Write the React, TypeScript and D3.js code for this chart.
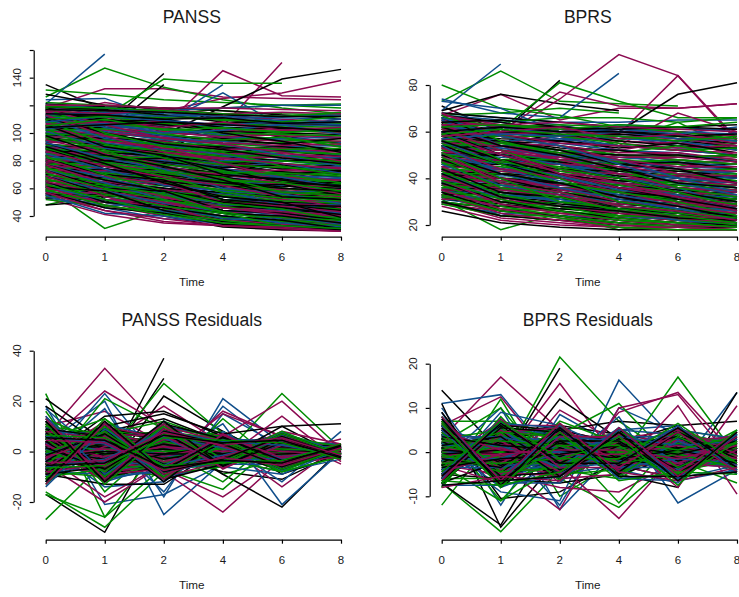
import React, { useEffect, useRef } from 'react';
import * as d3 from 'd3';

const times = ['0', '1', '2', '4', '6', '8'];
const lineColors = ['#000000', '#8B0A50', '#008B00', '#104E8B'];

// each row is one subject, read at times 0,1,2,4,6,8 (short rows dropped out)
const panssBlack = [
  [135,117,100,78,66,58],[110,105,143],[112,100,135],[128,120,118,110,104,100],[100,98,99,119,139,146],
  [48,51,40,32,30,30],[84,52,44,38,36,34],[118,114,108,104,97,90],[107,106,104,100,98,92],[121,119,118,116,113,110],
  [76,76,72,66,60,57],[92,88,82,78,72,64],[68,62,56,46,43,40],[88,84,78,72,66,60],[58,52,47,40,36,34],
  [97,92,90,85,83,82],[72,68,64,58,54,51],[64,58,54,48,44,42],[80,77,72,68,62,58],[102,99,93,90,84,79],
  [55,50,44,38,35,33],[86,80,74,68,62,60],[74,70,62,56,50,48],[115,110,104,96,92,88],[62,56,50,42,38,36],
  [94,92,84,76,72,68],[70,64,60,52,50,46],[82,76,70,60,58,55],[66,60,52,47,45,43],[78,72,68,62,56,52],[105,95,88,80,76,70],
  [119,117,113,108,107,106],[113,112,110,104,103,102],[109,110,106,101,100,99],[103,104,98,95,92,96],[99,96,94,89,90,87],
  [95,96,90,86,87,83],[91,90,86,83,80,81],[87,86,83,79,74,77],[83,84,79,75,77,72],[79,80,75,71,70,73],
  [75,72,74,69,67,63],[71,74,70,65,61,65],[67,68,65,61,63,55],[63,64,60,57,53,57],[59,62,57,54,50,49],
  [56,54,58,51,47,45],[53,56,52,46,48,44],[117,108,110,100,94,86],[111,100,92,88,82,78],[93,80,82,74,64,62],
  [89,74,68,64,60,58],[81,70,66,52,48,47],[77,66,58,50,46,41],[73,60,58,44,42,37],[69,56,48,42,40,35],
  [65,50,46,40,37,31],[61,58,44,36,33,31],[57,46,42,34,32,30],[106,90,84,70,66,61],[98,84,76,66,54,52],[90,78,64,54,50,39],
  [117,116,115,113,112,112],[114,113,110,111,107,108],[104,106,108,106,104,101],
];
const panssMaroon = [
  [118,132,132,126,125,124],[112,122,116,125,129,138],[108,104,105,145,127,126],[100,96,95,105,151],[53,41,35,33,30,29],
  [55,44,36,33,31,30],[120,118,115,112,110,108],[98,95,92,90,88,85],[90,88,86,84,82,80],[85,82,78,74,70,64],
  [110,106,100,98,96,94],[76,72,66,60,56,52],[68,63,56,48,44,38],[60,54,46,38,34,32],[104,102,98,96,94,90],
  [72,66,62,56,50,44],[116,111,108,102,100,96],[80,74,70,66,62,57],[64,60,52,44,38,34],[92,84,80,74,71,68],
  [58,50,42,36,32,31],[96,90,86,80,74,72],[70,62,58,52,46,42],[88,82,80,72,66,62],[74,70,64,58,52,48],
  [62,52,46,40,36,33],[114,108,102,100,98,96],[82,78,72,64,60,54],[66,58,50,42,40,36],[78,70,66,58,55,50],
  [119,116,112,110,106,105],[115,113,109,106,104,103],[111,107,106,103,102,100],[107,103,101,97,99,97],[101,100,97,93,91,92],
  [97,98,94,88,89,86],[93,94,89,85,85,83],[89,90,85,81,83,78],[86,85,81,77,76,75],[83,86,77,73,73,71],
  [79,81,76,69,69,65],[75,76,71,67,63,61],[71,73,69,63,59,59],[67,69,63,59,57,53],[63,65,59,55,51,51],
  [59,60,55,51,49,47],[56,57,53,47,43,41],[54,52,49,43,39,37],[117,106,96,92,86,80],[105,94,90,78,68,66],
  [95,86,74,70,64,56],[87,76,68,62,54,46],[81,68,64,50,47,43],[77,64,54,46,42,40],[73,58,50,46,41,35],
  [69,54,44,37,34,31],[65,56,48,35,33,30],[61,48,40,34,31,29],[57,44,38,33,32,29],[113,98,86,82,78,74],
  [116,114,117,114,115,114],[120,120,118,118,117,116],[106,108,104,108,102,104],
];
const panssGreen = [
  [126,147,133,124,118,114],[131,128,124,122,120,118],[61,31,45,40,34,33],[48,57,52,44,38,36],[112,112,139,136,136],
  [122,120,118,116,114,113],[118,116,112,118,120,121],[104,102,100,98,94,96],[100,96,95,92,93,94],[96,90,88,86,84,82],
  [90,86,84,80,78,76],[84,80,78,70,68,66],[78,76,74,68,62,60],[74,74,68,60,52,46],[70,64,60,54,48,40],
  [66,60,62,56,44,42],[62,54,48,40,34,32],[56,50,46,38,35,34],[110,104,100,92,90,88],[106,100,96,94,90,84],
  [116,110,104,98,96,92],[94,92,88,84,80,78],[86,84,80,76,72,70],[80,72,70,64,58,54],[72,70,64,58,56,50],
  [68,62,54,50,46,44],[64,58,50,46,42,38],[60,52,44,36,34,32],[76,74,66,62,58,56],[98,94,92,88,82,80],
  [120,115,113,109,108,107],[117,112,106,107,105,104],[113,109,107,103,101,101],[108,107,103,100,99,98],[102,103,99,95,97,90],
  [99,99,93,91,88,89],[95,95,91,87,86,85],[91,91,87,83,84,79],[88,87,85,79,80,77],[85,83,82,77,75,73],
  [81,82,77,73,71,69],[77,79,73,71,69,63],[73,77,71,65,65,61],[69,71,67,63,60,57],[65,67,64,59,55,53],
  [61,63,57,55,51,49],[58,59,55,52,47,45],[54,55,51,47,41,39],[52,47,43,39,37,35],[118,100,90,86,76,70],
  [109,92,82,72,70,64],[97,88,72,68,57,55],[89,78,69,57,53,51],[83,70,58,49,45,37],[75,62,56,42,39,37],
  [71,60,52,43,36,33],[67,56,47,42,33,31],[63,52,42,37,32,30],[59,48,41,35,33,31],[103,86,76,66,64,58],
  [119,118,116,114,112,115],[110,112,111,110,108,112],[105,110,102,104,100,103],
];
const panssBlue = [
  [121,157],[124,125,110,114,108,106],[116,110,107,135],[110,108,108,129,105,110],[112,108,105,104,103,100],
  [100,100,98,96,95,93],[92,88,84,82,80,76],[84,82,78,76,72,70],[78,78,76,70,66,62],[72,68,62,56,52,50],
  [66,60,56,52,46,44],[60,58,50,44,42,38],[108,102,96,90,88,84],[96,92,86,82,76,74],[88,86,82,78,74,72],
  [80,76,74,68,64,60],[74,70,66,62,58,54],[68,64,58,54,48,46],[62,56,52,48,44,40],[104,98,94,88,84,82],
  [90,84,80,74,70,66],[76,72,68,64,60,56],[70,66,60,56,50,47],[64,54,54,50,46,42],[58,46,38,36,34,32],
  [86,78,72,66,62,58],[116,118,114,112,111,110],[120,118,116,118,120,120],[82,80,74,70,68,64],
  [119,114,111,111,109,108],[114,113,106,105,106,105],[109,106,103,99,101,102],[105,105,102,97,96,97],[102,101,95,94,90,91],
  [98,97,91,89,87,87],[94,93,88,85,83,84],[90,89,84,80,81,75],[86,83,80,76,78,73],[83,80,79,72,69,68],
  [79,81,72,72,67,67],[75,74,71,66,62,63],[71,72,69,60,57,59],[67,68,63,58,55,51],[63,61,59,52,49,48],
  [59,62,56,49,45,43],[56,52,50,46,41,39],[53,48,47,42,38,36],[117,104,98,92,84,76],[111,96,92,84,78,71],
  [101,90,82,74,68,61],[93,82,74,60,56,49],[85,74,62,58,48,42],[77,68,56,44,41,37],[73,64,52,42,40,34],
  [69,58,49,38,36,33],[65,50,44,40,35,32],[61,52,43,36,33,31],[55,42,40,34,32,30],
  [113,115,112,114,112,113],[108,112,109,106,108,106],[103,107,100,102,106,99],
];

const bprsBlack = [
  [71,60,56,60,61,61],[69,76,72,69],[66,59,82],[64,31,36,30,28,27],[58,55,56,60,76,81],
  [26,21,19,18,18,18],[68,66,64,62,60,58],[60,58,56,54,52,50],[55,52,50,47,46,46],[50,47,45,42,38,36],
  [46,44,40,38,34,32],[42,40,38,34,32,30],[38,36,32,28,26,24],[34,30,28,24,22,21],[30,27,24,22,20,19],
  [56,54,50,48,44,42],[52,48,46,40,36,34],[48,44,42,36,33,31],[44,42,38,32,30,28],[40,36,34,30,28,26],
  [36,32,30,26,24,22],[32,29,26,22,20,20],[64,63,60,58,56,54],[58,52,46,42,40,38],[54,50,46,44,42,40],
  [47,46,42,38,36,34],[43,38,36,34,30,27],[39,34,30,28,26,25],[35,33,28,25,23,22],[67,64,60,62,62,63],
  [65,62,62,60,59,57],[63,61,58,59,57,55],[61,60,59,56,54,53],[59,57,56,53,55,51],[57,56,53,52,49,50],
  [53,54,51,50,50,47],[51,50,47,46,47,44],[49,50,47,44,43,41],[47,48,44,43,41,39],[45,46,44,41,39,37],
  [43,42,41,39,37,35],[41,42,37,37,35,33],[39,40,38,35,33,31],[37,38,35,33,31,29],[35,36,33,31,29,27],
  [33,34,31,29,27,25],[31,30,29,27,25,23],[29,28,27,25,24,22],[66,56,52,46,44,38],[60,50,44,40,34,30],
  [54,46,40,34,32,28],[48,40,34,30,26,24],[44,34,32,27,25,21],[38,30,26,23,21,20],[34,26,24,21,19,19],
  [30,24,22,20,19,18],[62,54,50,44,38,36],[56,48,42,36,31,27],[50,42,38,32,28,23],[42,32,28,26,23,22],
  [64,65,62,61,62,61],[60,62,60,60,58,59],
];
const bprsMaroon = [
  [67,76,65,70,70,72],[62,58,74,93,84,56],[64,60,77,71,70,72],[60,55,58,59,84,57],[28,22,20,19,18,18],
  [30,23,21,19,18,18],[66,62,61,60,58,56],[62,60,58,56,55,52],[58,56,52,52,50,49],[54,50,49,47,46,44],
  [50,48,44,40,38,34],[46,42,40,36,34,30],[42,38,36,32,28,24],[38,34,32,30,27,22],[34,30,30,26,22,20],
  [32,26,24,21,20,19],[56,52,50,52,50,48],[52,50,46,44,42,40],[48,46,42,38,36,32],[44,40,38,34,30,28],
  [40,38,34,30,26,23],[36,32,28,24,22,20],[60,60,58,52,56,50],[65,58,55,54,68,60],[55,48,46,50,48,46],
  [47,42,40,38,34,31],[43,40,34,28,25,24],[37,36,30,27,24,21],[33,28,26,23,21,20],[64,63,62,60,60,58],
  [67,63,61,59,58,57],[65,62,60,58,57,54],[61,59,60,55,53,54],[59,59,55,54,52,51],[57,55,54,51,51,48],
  [55,54,51,49,49,47],[53,52,48,48,45,45],[51,51,49,45,44,43],[49,47,46,45,42,41],[47,48,43,42,41,38],
  [45,44,42,40,39,37],[43,43,41,38,36,35],[41,40,37,36,34,33],[39,39,36,34,33,29],[37,36,35,32,30,27],
  [35,35,32,29,28,25],[31,31,28,26,24,23],[29,26,25,23,21,19],[68,58,54,48,42,38],[63,54,48,42,36,34],
  [59,50,44,38,32,26],[53,44,40,34,29,27],[49,40,36,30,28,25],[45,36,33,26,24,22],[41,32,28,25,23,21],
  [39,29,25,22,20,19],[35,27,23,20,19,18],[33,25,22,19,19,18],[61,52,42,36,32,28],[51,38,34,28,26,22],
  [63,63,64,62,61,60],[58,60,62,57,59,55],
];
const bprsGreen = [
  [73,86,73,72,71],[80,70,67,62,58,54],[31,18,25,24,22,22],[60,61,81,73,66,66],[34,24,24,18,22,21],
  [67,68,70,68],[65,64,66,66,64,66],[62,56,50,56,64,52],[58,54,50,46,48,44],[54,52,50,48,46,40],
  [50,50,46,44,40,38],[46,46,42,40,36,30],[42,40,40,34,32,28],[38,36,34,32,30,26],[36,33,36,28,25,24],
  [33,28,30,25,22,20],[32,26,24,20,19,19],[56,50,48,46,44,42],[52,48,50,44,40,36],[48,42,44,38,36,34],
  [44,40,36,36,32,26],[40,35,38,32,28,26],[64,58,62,54,52,55],[61,58,54,50,48,46],[57,56,52,48,50,48],
  [53,46,46,42,38,34],[45,44,38,34,34,30],[41,34,32,30,28,24],[37,34,30,24,24,23],[35,30,28,26,22,20],
  [66,62,63,62,60,57],[63,63,60,57,58,56],[60,58,58,55,52,53],[58,58,54,51,54,49],[56,55,52,50,49,50],
  [54,55,51,47,48,46],[52,51,47,46,43,44],[50,48,48,43,41,42],[48,47,45,41,42,39],[46,45,43,39,38,37],
  [44,43,41,37,37,35],[42,42,38,37,34,33],[40,39,36,35,33,31],[38,37,33,34,31,29],[36,37,34,30,29,27],
  [34,32,32,27,27,25],[32,30,27,26,24,23],[30,27,26,24,23,21],[29,24,22,21,20,19],[67,56,50,44,36,32],
  [61,52,44,40,34,28],[55,46,38,34,30,24],[49,38,34,28,25,22],[47,36,32,26,23,20],[43,33,28,23,21,19],
  [39,31,26,22,21,19],[37,28,24,21,19,18],[33,26,23,19,18,18],[59,48,40,30,26,23],[51,40,30,27,24,21],
  [62,63,61,63,62,64],[59,61,59,58,56,58],
];
const bprsBlue = [
  [69,89],[74,68,66,85],[73,70,60,58,54,60],[68,66,64,64,65,65],[62,60,60,63,62,60],
  [58,58,56,58,55,54],[54,54,52,50,46,48],[50,50,48,48,44,38],[46,48,44,42,40,36],[42,41,42,36,34,34],
  [40,42,36,33,30,30],[37,35,32,34,30,28],[33,30,34,30,28,24],[30,24,30,28,26,22],[56,52,48,44,42,40],
  [52,46,44,40,38,36],[48,42,40,36,34,30],[44,40,36,34,30,28],[60,56,52,50,48,46],[64,62,58,54,52,50],
  [66,64,60,61,60,59],[38,38,34,30,26,25],[35,32,28,28,26,24],[47,44,42,38,36,32],[43,39,38,36,32,28],
  [55,50,48,46,44,42],[51,48,46,42,40,38],
  [67,65,63,58,58,56],[63,59,62,60,57,57],[61,61,57,57,56,52],[59,56,57,54,53,53],[57,54,55,52,51,47],
  [55,53,50,49,47,45],[53,53,49,47,45,44],[51,49,50,44,42,43],[49,46,46,43,41,40],[47,47,44,40,39,41],
  [45,45,40,39,37,39],[43,44,39,38,35,37],[41,38,37,37,33,32],[39,37,37,35,32,31],[36,36,35,32,31,29],
  [34,34,30,31,29,27],[32,32,31,29,28,26],[31,28,27,26,25,25],[29,25,24,23,23,21],[65,54,50,48,40,34],
  [60,50,46,40,36,27],[56,46,41,35,33,26],[50,44,38,33,28,26],[46,37,33,30,27,23],[42,33,31,27,25,21],
  [38,32,28,26,22,20],[66,58,54,46,38,33],[54,42,36,31,27,22],
  [60,62,60,61,59,62],[57,59,58,60,57,56],
];

const panssResBlack = [
  [-17,-32,10,6,2,0],[4,-8,37],[2,-6,29],[6,-10,22,8,-4,0],[21,4,-5,-3,1,0],
  [18,2,-2,-8,-11,0],[-6,-4,5,-9,-22,1],[8,8,13,4,-1,-1],[-9,-13,-13,2,4,0],[-3,14,16,6,-9,-1],
  [3,10,15,7,10,-2],[-2,-5,-2,-3,10,11],[0,1,2,1,-1,0],[-3,-3,-1,0,2,1],[2,1,-1,-2,0,0],
  [-5,-3,0,-3,-1,1],[5,-1,-4,-1,1,-1],[-8,-4,-3,-5,3,2],[10,-5,-7,-2,4,-1],[-1,6,8,2,-6,-1],
  [4,-6,-6,3,6,-1],[-4,4,-5,-2,-4,1],[1,-2,3,1,-3,0],[7,-8,2,-1,0,0],[-6,7,6,-1,-7,2],
  [-12,-1,7,2,5,-2],[-2,2,2,0,-1,0],
  [9,-7,-4,-1,2,0],[-9,6,4,1,-3,1],[7,-5,-3,2,-1,-1],[-7,5,3,-2,1,0],[11,-9,-5,-2,3,-1],
  [-10,8,5,2,-3,1],[6,-3,-2,1,-3,1],[-5,2,3,-2,2,-1],[3,-4,-1,2,-2,1],[-4,3,1,-1,1,-1],
  [1,2,-2,-1,1,0],[-1,-1,1,1,-1,0],[12,-10,-6,1,2,-2],[-11,9,6,-1,-4,2],[8,-2,-6,-4,4,0],
  [-8,1,7,3,-5,1],[5,-6,2,3,-3,1],[-5,4,-2,-3,3,-1],[2,5,-5,-3,2,0],[-3,-5,4,3,-1,-1],
  [0,-3,3,-1,1,0],[-1,3,-3,1,-1,1],[4,-1,1,-2,-1,0],[-2,0,-1,2,0,0],[6,-6,-1,-1,2,0],
  [7.5,-9,11,5,-6,1.5],[-7.5,9,-11,-5,6,-1.5],[4,-11,9,-4,7,-1],[-4,11,-9,4,-7,1],[9,6,-12,6,-5,2],
  [-9,-6,12,-6,5,-2],[1.5,-7,7.5,-5.5,3.5,-1.5],[-1.5,7,-7.5,5.5,-3.5,1.5],[12,-12,8,3,-6,2],[-12,12,-8,-3,6,-2],
  [5.5,4.5,-6.5,-3.5,-4.5,2.5],[-5.5,-4.5,6.5,3.5,4.5,-2.5],
];
const panssResMaroon = [
  [6,33,8,4,0,0],[3,24,10,-1,2,-1],[10,16,3,2,-5,-2],[-5,-20,-5,-2,1,-3],[5,-4,-8,-24,-3,0],
  [-4,-2,-7,-18,-2,1],[-1,3,18,3,-14,3],[-2,-18,-5,16,6,-5],[4,-3,-3,15,6,-2],[0,-1,-2,6,20,-1],
  [-6,4,-1,-3,14,-4],[2,-2,0,1,-1,5],[8,-7,-3,-1,2,1],[-3,2,1,-1,-3,1],[1,1,-1,-1,1,0],
  [-1,-2,-2,0,0,-1],[0,-1,1,0,-1,0],[3,-3,-2,2,1,-1],[-2,2,-1,-2,2,1],[5,-6,-5,3,3,-1],
  [-7,3,2,-3,4,-1],[12,-5,-4,-6,6,-3],[-4,6,4,7,-5,-2],[2,9,-9,-1,-2,3],[-3,-10,-2,-2,8,3],
  [14,-12,0,5,-7,1],[0,0,0,-1,0,0],
  [8,-6,-5,1,1,-1],[-8,7,3,-1,-2,1],[6,-5,-1,-2,3,0],[-6,4,2,2,-2,-1],[10,-8,-6,1,2,-1],
  [-9,7,6,-2,-3,2],[5,-2,-4,2,-2,1],[-4,3,4,-3,1,-1],[4,-5,1,2,-3,1],[-3,4,-1,-1,2,0],
  [2,1,-3,0,1,-1],[-1,-2,2,1,-1,1],[11,-9,-7,2,3,-2],[-10,10,5,-4,-2,1],[7,-3,-5,-3,5,-1],
  [-7,2,6,4,-6,2],[4,-7,3,2,-2,0],[-5,5,-3,-4,4,-1],[3,6,-6,-2,1,0],[-2,-6,5,2,-1,1],
  [1,-4,2,0,2,-1],[0,4,-4,1,-1,0],[3,-2,2,-3,-2,1],[-2,1,-2,3,0,-1],
  [6.5,-8,10,4,-7,2.5],[-6.5,8,-10,-4,7,-2.5],[3,-12,8,-5,6,-2],[-3,12,-8,5,-6,2],[8,5,-11,7,-4,1.5],
  [-8,-5,11,-7,4,-1.5],[2.5,-6,6.5,-6.5,2.5,-0.5],[-2.5,6,-6.5,6.5,-2.5,0.5],[13,-11,9,2,-5,3],[-13,11,-9,-2,5,-3],
  [4.5,3.5,-7.5,-2.5,-5.5,1.5],[-4.5,-3.5,7.5,2.5,5.5,-1.5],
];
const panssResGreen = [
  [-27,-4,2,-3,0,0],[23,-26,4,8,-4,0],[-16,-30,-8,-4,4,1],[-17,-26,-6,2,-1,1],[-8,21,9,-9,-3,1],
  [2,-2,27,7,-3,1],[-1,-3,5,-2,23,1],[-4,3,-7,-15,5,2],[3,-6,-10,13,-6,-1],[0,-5,1,-12,7,1],
  [16,-16,5,-3,-8,-2],[-10,7,12,4,-2,-1],[5,13,-3,0,4,0],[-6,-1,7,1,-8,-2],[-3,6,-8,-2,0,1],
  [1,4,3,3,-4,2],[-1,-2,-1,0,-2,-1],[2,0,0,-1,1,0],[-2,1,-2,1,2,0],[4,-1,2,-3,-2,1],
  [7,-4,-5,4,1,-1],[-5,5,4,-4,3,-1],[10,-9,-4,-3,6,2],[-8,-10,-6,5,-6,2],[13,3,-10,2,2,-2],[-12,9,1,-6,7,-2],
  [9,-8,-3,-2,3,-1],[-9,5,5,0,-3,1],[7,-4,-4,3,-2,0],[-7,6,2,-3,2,0],[10,-7,-5,-3,4,-1],
  [-11,9,4,3,-4,1],[5,-3,-3,1,-2,1],[-4,2,5,-2,0,0],[3,-5,2,4,-3,-1],[-3,5,-2,-2,3,1],
  [1,3,-4,-1,2,0],[-1,-3,3,2,-2,0],[12,-11,-4,-1,2,-2],[-13,8,7,2,-5,2],[8,-1,-7,-5,3,1],
  [-6,0,8,5,-7,1],[4,-8,3,1,-1,1],[-5,6,-4,-5,5,-2],[2,7,-7,-3,3,0],[-2,-7,6,3,-3,1],
  [0,-4,4,-1,0,-1],[-1,3,-3,2,-1,1],[6,-1,1,-4,-1,0],[-3,1,0,1,1,0],
  [8.5,-10,9,6,-5,0.5],[-8.5,10,-9,-6,5,-0.5],[5,-10,11,-3,8,-1.5],[-5,10,-11,3,-8,1.5],[10,7,-10,5,-6,2.5],
  [-10,-7,10,-5,6,-2.5],[0.5,-8,8.5,-4.5,4.5,-1],[-0.5,8,-8.5,4.5,-4.5,1],[11,-13,7,4,-7,1],[-11,13,-7,-4,7,-1],
  [6.5,5.5,-5.5,-4.5,-3.5,3],[-6.5,-5.5,5.5,4.5,3.5,-3],
];
const panssResBlue = [
  [18,-21,-17,-5,3,1],[-4,23,-6,-2,4,-2],[3,20,-25,-4,2,0],[-3,17,-18,21,3,-2],[2,-14,-12,18,0,-1],
  [-1,6,-16,15,2,-2],[1,-5,-3,11,-21,0],[17,-3,3,3,-12,8],[-8,-9,4,-3,-8,-3],[-12,8,-11,8,-6,-1],
  [5,-12,-5,-6,-9,1],[8,7,-10,4,1,3],[-6,-8,5,-4,3,-1],[10,3,-4,2,-4,0],[0,2,1,0,-2,-1],
  [-2,-3,-2,1,1,0],[3,-1,-1,-2,0,1],[-4,1,2,-1,2,1],[6,-5,0,3,-3,-1],[-7,4,-3,-3,5,-2],
  [1,-2,6,-5,4,3],[-1,1,-5,2,-1,0],[12,-11,-7,5,4,-2],[-9,6,3,-5,-5,2],
  [9,-6,-6,0,3,0],[-8,8,2,-1,-1,0],[7,-7,-2,2,-2,-1],[-6,3,4,-1,1,1],[11,-8,-4,-2,2,-2],
  [-10,7,7,1,-4,1],[5,-4,-1,-3,3,0],[-5,4,2,2,-1,-1],[3,-3,-4,2,-1,1],[-3,2,3,-3,2,0],
  [2,-1,-2,1,0,-1],[0,1,1,-2,1,1],[13,-10,-8,0,4,-2],[-12,11,5,-3,-3,2],[7,-2,-7,-2,4,1],
  [-7,1,5,4,-6,1],[4,-9,4,3,-2,0],[-4,7,-5,-3,2,-1],[2,5,-3,-5,3,1],[-2,-4,7,3,-2,0],
  [1,-5,1,1,-1,0],[-1,5,-2,-1,1,-1],[5,0,-1,-2,-3,1],
  [7,-11,10,5.5,-6.5,2],[-7,11,-10,-5.5,6.5,-2],[3.5,-9,12,-3.5,7.5,-0.5],[-3.5,9,-12,3.5,-7.5,0.5],[9.5,4,-9,6.5,-5.5,1],
  [-9.5,-4,9,-6.5,5.5,-1],[1,-6,5.5,-5,3,-2],[-1,6,-5.5,5,-3,2],[14,-9,6,1.5,-4.5,2],[-14,9,-6,-1.5,4.5,-2],
  [6,3,-8,-4,-2.5,1.5],[-6,-3,8,4,2.5,-1.5],
];

const bprsResBlack = [
  [14,0,-2,1,-1,0],[3,-3,19],[-7,-16.5,6,4,-3,-1],[8,-10.5,-9,-2,-1,0],[5,-5,12,3,-1,-3],
  [4,3,5,7,6,7],[-5,-6,-7,-5,-8,13.5],[11,-17,-1,0,1,-1],[1,0,0,0,0,0],[-1,1,1,-1,-1,-1],
  [2,-2,3,-2,-4,1],[-3,2,-3,4,2,-2],[6,-4,4,-3,-6,2],[-4,5,-5,1,3,-3],[0,3,2,-1,-2,-1],
  [-2,-1,-2,2,1,2],[3,-3,-4,5,-3,3],[-6,4,6,-4,5,-3],[7,-7,1,-5,2,1],[-7,-2,5,2,6,-4],
  [1,2,-1,-2,0,1],[-1,-4,0,3,-5,2],[4,1,-6,0,3,-1],[-3,6,5,-5,-1,0],[9,-8,2,-1,-3,2],
  [6,-3,-3,0,1,0],[-6,2,3,-1,0,1],[4,-3,-2,1,-1,1],[-4,3,2,-1,1,-1],[5,-5,0,1,-2,1],
  [-5,5,0,-1,2,-2],[3,-1,-1,-1,1,-1],[-3,1,1,1,-1,1],[2,-1,-2,2,-1,0],[-2,1,2,-2,1,0],
  [1,1,-1,0,-1,0],[-1,-1,1,0,1,0],[7,-4,-4,-1,2,0],[-7,4,4,1,-3,1],[4,-6,3,1,-2,0],
  [-4,6,-3,-1,2,0],[2,3,-4,-1,0,1],[-2,-3,4,1,0,-1],[0,2,-1,-2,1,0],[0,-2,1,2,-1,0],
  [3,1,-3,-2,2,-1],[-3,-1,3,2,-2,1],[5,-2,1,-3,-1,0],[-5,2,-1,3,1,0],[1,-3,2,-1,1,0],
  [4.5,-2.5,-1.5,2.5,-2.5,1.5],[-4.5,2.5,1.5,-2.5,2.5,-1.5],[2.5,-4.5,3.5,-0.5,-3.5,0.5],[-2.5,4.5,-3.5,0.5,3.5,-0.5],
  [0.5,-0.5,2.5,-3.5,1.5,2.5],[-0.5,0.5,-2.5,3.5,-1.5,-2.5],[6.5,-5.5,-4.5,1.5,3.5,-3.5],[-6.5,5.5,4.5,-1.5,-3.5,3.5],
  [1.5,3.5,-5.5,4.5,-4.5,1.5],[-1.5,-3.5,5.5,-4.5,4.5,-1.5],[3.5,1.5,0.5,-1.5,0.5,-2.5],[-3.5,-1.5,-0.5,1.5,-0.5,2.5],
  [5.5,-6.5,2.5,2.5,-5.5,3.5],[-5.5,6.5,-2.5,-2.5,5.5,-3.5],[7.5,-7.5,5.5,-5.5,-5.5,-4.5],[-7.5,-6.5,-5.5,4.5,-6.5,4.5],
];
const bprsResMaroon = [
  [3,17,5,2,-1,-2],[6,12.5,-4,1,-3,1],[5,-2,15.5,-2,-1,0],[-1,-6,9.5,2,-4,1],[2,-3,-3,-15,0,3],
  [-3,-5,-8,-9,-2,2],[-4,4,-7,9,13.5,-1],[1,-3,-13,10,13,-3],[0,2,1,-4,10.5,-9.5],[-5,3,-4,3,-8,10.5],
  [1,0,-1,0,1,0],[-1,1,1,-1,0,-1],[5,-4,3,4,2,-2],[-2,7,-5,-1,4,2],[3,-6,2,-3,-3,3],
  [-6,5,-1,5,-4,1],[2,-2,-2,1,-1,-1],[-2,-1,3,-2,3,-3],[4,3,-6,-5,1,4],[-3,-7,4,3,5,-4],
  [0,1,-2,2,-2,0],[7,-5,-5,1,5,-1],[-7,6,6,-3,-6,2],[1,-1,0,-1,0,1],[-1,-2,2,0,2,-2],
  [6,-4,-2,1,0,-1],[-6,3,2,-2,1,1],[4,-2,-3,0,1,0],[-4,2,3,0,-1,0],[5,-4,1,-1,-1,1],
  [-5,4,-1,1,1,-1],[3,-2,0,-2,1,0],[-3,2,0,2,-1,0],[2,0,-3,1,0,0],[-2,0,3,-1,0,0],
  [1,2,-2,-1,0,1],[-1,-2,2,1,0,-1],[7,-3,-5,0,1,1],[-6,5,3,-1,-2,-1],[3,-5,4,0,-3,1],
  [-3,5,-4,2,1,-1],[1,4,-3,-2,1,-1],[-1,-4,3,2,-1,1],[0,1,-2,1,-1,1],[0,-1,2,-1,1,-1],
  [2,2,-1,-3,1,-1],[-2,-2,1,3,-1,1],[4,-1,2,-4,-1,0],[-4,1,-2,4,0,-1],
  [3.5,-1.5,-2.5,1.5,-3.5,2.5],[-3.5,1.5,2.5,-1.5,3.5,-2.5],[1.5,-3.5,4.5,-1.5,-2.5,1.5],[-1.5,3.5,-4.5,1.5,2.5,-1.5],
  [0.5,0.5,1.5,-2.5,2.5,3.5],[-0.5,-0.5,-1.5,2.5,-2.5,-3.5],[5.5,-4.5,-5.5,2.5,2.5,-2.5],[-5.5,4.5,5.5,-2.5,-2.5,2.5],
  [2.5,2.5,-4.5,3.5,-5.5,0.5],[-2.5,-2.5,4.5,-3.5,5.5,-0.5],[4.5,0.5,-0.5,-0.5,1.5,-1.5],[-4.5,-0.5,0.5,0.5,-1.5,1.5],
  [6.5,-7.5,3.5,3.5,-4.5,4.5],[-6.5,7.5,-3.5,-3.5,4.5,-4.5],[8,-6.5,6.5,-4.5,-6.5,-3.5],[-8,-5.5,-6.5,5.5,-5.5,3.5],
];
const bprsResGreen = [
  [-12,5,2,-1,-1,0],[-7,-18,-4,3,0,1],[-8,12,-10,-2,3,-1],[2,10,-6,-12.5,-1,4],[3,-3,21.5,7,-2,-7],
  [-1,-4,-2,-2,17,-1],[7,7,4,11,-3,3],[-3,-11,3,-11.5,4,2],[5,-11,-3,3,-2,5],[0,-1,0,1,0,0],
  [-2,2,2,-1,-1,1],[2,-2,-2,2,1,-1],[-5,4,-5,-4,5,3],[4,-5,5,-3,-3,-3],[-4,6,3,4,-4,-2],
  [6,-3,-4,-6,2,2],[-6,-6,7,2,-1,-4],[1,3,-1,-2,3,1],[-1,-2,1,0,-3,2],[3,5,-5,4,-2,-2],
  [-3,1,6,-5,1,0],[8,-7,2,1,-5,4],[-8,8,-6,0,4,-1],[1,-1,0,1,-1,-1],[-2,0,-3,3,2,2],
  [5,-3,-2,0,1,-1],[-5,2,3,-1,1,0],[4,-4,-1,1,0,0],[-4,4,1,-1,0,0],[6,-5,-1,-1,1,0],
  [-6,5,1,1,-1,0],[3,-3,1,0,-1,0],[-3,3,-1,0,1,0],[2,-2,-1,1,0,-1],[-2,2,1,-1,0,1],
  [1,0,-1,1,-1,0],[-1,0,1,-1,1,0],[7,-6,-3,1,1,0],[-7,6,3,-1,-2,1],[3,-4,3,-2,-1,1],
  [-3,4,-3,2,1,-1],[1,3,-2,-3,1,0],[-1,-3,2,3,-1,0],[0,3,-1,-2,0,1],[0,-3,1,2,0,-1],
  [2,1,-2,0,-2,1],[-2,-1,2,0,2,-1],[4,0,-3,-1,0,-1],[-4,0,3,1,0,1],
  [5.5,-3.5,-0.5,3.5,-1.5,0.5],[-5.5,3.5,0.5,-3.5,1.5,-0.5],[3.5,-5.5,2.5,0.5,-4.5,-1.5],[-3.5,5.5,-2.5,-0.5,4.5,1.5],
  [1.5,-1.5,3.5,-4.5,0.5,3.5],[-1.5,1.5,-3.5,4.5,-0.5,-3.5],[7,-4.5,-3.5,0.5,4.5,-4.5],[-7,4.5,3.5,-0.5,-4.5,4.5],
  [0.5,4.5,-6.5,5.5,-3.5,2.5],[-0.5,-4.5,6.5,-5.5,3.5,-2.5],[2.5,2.5,1.5,-2.5,-0.5,-3.5],[-2.5,-2.5,-1.5,2.5,0.5,3.5],
  [4.5,-7,1.5,1.5,-6.5,2.5],[-4.5,7,-1.5,-1.5,6.5,-2.5],[6.5,-8,4.5,-6.5,-4.5,-5],[-6.5,-7.5,-4.5,3.5,-7.5,5],
];
const bprsResBlue = [
  [11,13,-3,-2,0,1],[9,-12,8.5,1,-4,13.5],[-2,10,-13,1,3,-3],[1,-9,-11,16.3,2,-5],[-3,3,-12,10,4,-1],
  [2,-8,-3,8,-11.5,-4],[10,-8,6,-4,-7,5],[8,-7,-7,5,6,-5],[-6,9,6,-6,-5,4],[0,0,1,-1,0,0],
  [-1,1,-1,1,1,-1],[1,-2,0,0,-1,1],[-4,-1,3,3,-6,-3],[5,2,-5,-3,3,2],[-5,5,-2,4,-3,-3],
  [3,-6,4,-5,5,3],[-2,3,-6,2,-2,-2],[6,-4,2,-1,-5,3],[2,4,5,-4,2,-1],[-3,-3,-4,5,4,2],
  [4,1,-1,-2,-2,-3],[-7,7,-5,3,1,1],[1,-5,6,0,-4,4],[-1,2,3,-3,3,-4],
  [6,-4,-3,1,1,-1],[-5,3,2,0,-1,1],[4,-3,-1,-1,1,1],[-4,3,1,1,-1,-1],[5,-3,-2,1,0,0],
  [-6,4,2,-1,0,0],[3,-2,-1,2,-1,-1],[-3,2,1,-2,1,1],[2,-1,-2,-1,1,1],[-2,1,2,1,-1,-1],
  [1,-1,0,1,0,-1],[-1,1,0,-1,0,1],[6,-6,-2,2,0,-1],[-7,5,4,-2,-1,1],[3,-5,2,3,-2,0],
  [-3,5,-2,-3,2,0],[1,4,-4,0,-1,1],[-1,-4,4,0,1,-1],[0,2,-2,1,-2,1],[0,-2,2,-1,2,-1],
  [2,3,-1,-1,-2,1],[-2,-3,1,1,2,-1],[4,1,-3,-2,1,0],
  [4,-3.5,-2.5,2.5,-0.5,1.5],[-4,3.5,2.5,-2.5,0.5,-1.5],[2,-5.5,4.5,-0.5,-5.5,0.5],[-2,5.5,-4.5,0.5,5.5,-0.5],
  [0.5,-1.5,1.5,-4.5,2.5,3.5],[-0.5,1.5,-1.5,4.5,-2.5,-3.5],[6,-6.5,-5.5,3.5,3.5,-4],[-6,6.5,5.5,-3.5,-3.5,4],
  [1.5,1.5,-3.5,5.5,-2.5,2.5],[-1.5,-1.5,3.5,-5.5,2.5,-2.5],[3.5,3.5,0.5,-3.5,-1.5,-2.5],[-3.5,-3.5,-0.5,3.5,1.5,2.5],
  [5,-7.5,3.5,2.5,-6,4.5],[-5,7.5,-3.5,-2.5,6,-4.5],[7.5,-6.5,5.5,-6,-6.5,-4],[-7.5,-7.5,-5.5,5.5,-6,4],
];

type Panel = {
  title: string; groups: number[][][]; left: number; right: number; axisX: number;
  axisY: number; titleY: number; labelY: number; timeY: number;
  yDomain: [number, number]; yRange: [number, number]; yTicks: number[]; yLabels: number[];
};

const panels: Panel[] = [
  { title: 'PANSS', groups: [panssBlack, panssMaroon, panssGreen, panssBlue], left: 45.7, right: 341, axisX: 33.7,
    axisY: 236.7, titleY: 22.7, labelY: 261, timeY: 286,
    yDomain: [40, 160], yRange: [216, 50], yTicks: [40, 60, 80, 100, 120, 140, 160], yLabels: [40, 60, 80, 100, 140] },
  { title: 'BPRS', groups: [bprsBlack, bprsMaroon, bprsGreen, bprsBlue], left: 441.7, right: 737, axisX: 429.7,
    axisY: 236.7, titleY: 22.7, labelY: 261, timeY: 286,
    yDomain: [20, 80], yRange: [225, 85], yTicks: [20, 40, 60, 80], yLabels: [20, 40, 60, 80] },
  { title: 'PANSS Residuals', groups: [panssResBlack, panssResMaroon, panssResGreen, panssResBlue], left: 45.7, right: 341, axisX: 33.7,
    axisY: 539.7, titleY: 326, labelY: 564, timeY: 589,
    yDomain: [-20, 40], yRange: [502, 350.7], yTicks: [-20, 0, 20, 40], yLabels: [-20, 0, 20, 40] },
  { title: 'BPRS Residuals', groups: [bprsResBlack, bprsResMaroon, bprsResGreen, bprsResBlue], left: 441.7, right: 737, axisX: 429.7,
    axisY: 539.7, titleY: 326, labelY: 564, timeY: 589,
    yDomain: [-10, 20], yRange: [496.3, 363.7], yTicks: [-10, 0, 10, 20], yLabels: [-10, 0, 10, 20] },
];

const font = '"Liberation Sans", Arial, sans-serif';

const App = () => {
  const svgRef = useRef<SVGSVGElement>(null);

  useEffect(() => {
    const svg = d3.select(svgRef.current);
    svg.selectAll('*').remove();

    panels.forEach(p => {
      const x = d3.scaleLinear().domain([0, times.length - 1]).range([p.left, p.right]);
      const y = d3.scaleLinear().domain(p.yDomain).range(p.yRange);
      const line = d3.line<number>().x((_, i) => x(i)).y(d => y(d));

      // colours cycle subject by subject, like matplot
      const rows = d3.max(p.groups, g => g.length) as number;
      d3.range(rows).forEach(i => {
        p.groups.forEach((g, c) => {
          if (!g[i]) return;
          svg.append('path')
            .attr('d', line(g[i]))
            .attr('fill', 'none')
            .attr('stroke', lineColors[c])
            .attr('stroke-width', 1.5);
        });
      });

      // bottom axis
      const xAxis = svg.append('g')
        .attr('transform', `translate(0,${p.axisY})`)
        .call(d3.axisBottom(x).tickValues(d3.range(times.length)).tickSizeOuter(0).tickSizeInner(4)
          .tickFormat((_, i) => times[i]));
      xAxis.select('.domain').attr('stroke', '#000').attr('stroke-width', 1.2);
      xAxis.selectAll('.tick line').attr('stroke', '#000').attr('stroke-width', 1.2);
      xAxis.selectAll('.tick text').remove();
      times.forEach((t, i) => {
        svg.append('text').attr('x', x(i)).attr('y', p.labelY).attr('text-anchor', 'middle')
          .attr('font-family', font).attr('font-size', 11.5).attr('fill', '#1a1a1a').text(t);
      });

      // left axis, labels turned like R does
      const yAxis = svg.append('g')
        .attr('transform', `translate(${p.axisX},0)`)
        .call(d3.axisLeft(y).tickValues(p.yTicks).tickSizeOuter(0).tickSizeInner(4));
      yAxis.select('.domain').attr('stroke', '#000').attr('stroke-width', 1.2);
      yAxis.selectAll('.tick line').attr('stroke', '#000').attr('stroke-width', 1.2);
      yAxis.selectAll('.tick text').remove();
      p.yLabels.forEach(v => {
        svg.append('text')
          .attr('transform', `translate(${p.axisX - 13},${y(v)}) rotate(-90)`)
          .attr('text-anchor', 'middle')
          .attr('font-family', font).attr('font-size', 11.5).attr('fill', '#1a1a1a').text(v);
      });

      const mid = (p.left + p.right) / 2 - 1.5;
      svg.append('text').attr('x', mid).attr('y', p.titleY).attr('text-anchor', 'middle')
        .attr('font-family', font).attr('font-size', 17.6).attr('fill', '#1a1a1a').text(p.title);
      svg.append('text').attr('x', mid).attr('y', p.timeY).attr('text-anchor', 'middle')
        .attr('font-family', font).attr('font-size', 11.7).attr('fill', '#1a1a1a').text('Time');
    });
  }, []);

  return <svg ref={svgRef} width={739} height={597} style={{ position: 'absolute', left: 0, top: 0, background: '#fff' }} />;
};

export default App;
